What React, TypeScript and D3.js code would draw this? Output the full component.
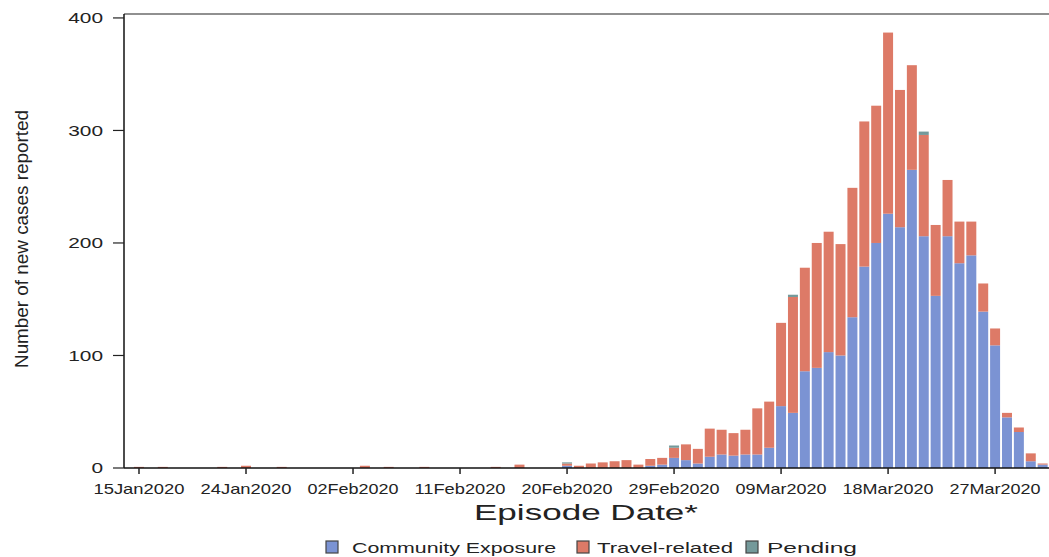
import React, { useEffect, useRef } from 'react';
import * as d3 from 'd3';

const WIDTH = 1049;
const HEIGHT = 557;

// one entry per episode day, 15Jan2020 .. 31Mar2020
const START_DAY = new Date(2020, 0, 15);
const END_DAY = new Date(2020, 3, 1);

const community = [
  0, 0, 0, 0, 0, 0, 0, 0, 0, 0, 0, 0, 0, 0, 0, 0, 0, 0, 0, 0,
  0, 0, 0, 0, 0, 0, 0, 0, 0, 0, 0, 0, 0, 0, 0, 0, 2, 0, 0, 0,
  0, 0, 0, 2, 3, 9, 7, 4, 10, 12, 11, 12, 12, 18, 55, 49, 86, 89, 103, 100,
  134, 179, 200, 226, 214, 265, 206, 153, 206, 182, 189, 139, 109, 45, 32, 6, 3,
];
const travel = [
  1, 0, 1, 0, 0, 0, 0, 1, 0, 2, 0, 0, 1, 0, 0, 0, 0, 0, 0, 2,
  0, 1, 0, 0, 1, 0, 0, 0, 0, 0, 1, 0, 3, 0, 0, 0, 2, 2, 4, 5,
  6, 7, 3, 6, 6, 9, 14, 13, 25, 22, 20, 22, 41, 41, 74, 103, 92, 111, 107, 99,
  115, 129, 122, 161, 122, 93, 90, 63, 50, 37, 30, 25, 15, 4, 4, 7, 1,
];
const pending = [
  0, 0, 0, 0, 0, 0, 0, 0, 0, 0, 0, 0, 0, 0, 0, 0, 0, 0, 0, 0,
  0, 0, 0, 0, 0, 0, 0, 0, 0, 0, 0, 0, 0, 0, 0, 0, 1, 0, 0, 0,
  0, 0, 0, 0, 0, 2, 0, 0, 0, 0, 0, 0, 0, 0, 0, 2, 0, 0, 0, 0,
  0, 0, 0, 0, 0, 0, 3, 0, 0, 0, 0, 0, 0, 0, 0, 0, 0,
];

const seriesKeys = ['community', 'travel', 'pending'];
const seriesLabels = ['Community Exposure', 'Travel-related', 'Pending'];
const seriesColors = ['#7b93d3', '#dd7a67', '#74999a'];

const xTickLabels = [
  '15Jan2020', '24Jan2020', '02Feb2020', '11Feb2020', '20Feb2020',
  '29Feb2020', '09Mar2020', '18Mar2020', '27Mar2020',
];
const yTicks = [0, 100, 200, 300, 400];

const FONT = '"Liberation Sans", Arial, sans-serif';

const App: React.FC = () => {
  const ref = useRef<SVGSVGElement>(null);

  useEffect(() => {
    const svg = d3.select(ref.current);
    svg.selectAll('*').remove();

    const days = d3.timeDay.range(START_DAY, END_DAY);
    const fmt = d3.timeFormat('%d%b%Y');
    const rows = days.map((d, i) => ({
      day: fmt(d),
      community: community[i],
      travel: travel[i],
      pending: pending[i],
    }));

    const left = 124;
    const top = 14;
    const bottom = 468;

    const x = d3
      .scaleBand()
      .domain(rows.map((r) => r.day))
      .range([133.05, 1048.6])
      .paddingInner(0.16)
      .paddingOuter(0.08);

    const y = d3.scaleLinear().domain([0, 403.5]).range([bottom, top]);

    const stack = d3.stack<any>().keys(seriesKeys)(rows);

    const g = svg.append('g');
    stack.forEach((layer, k) => {
      g.append('g')
        .attr('fill', seriesColors[k])
        .selectAll('rect')
        .data(layer.filter((d) => d[1] - d[0] > 0))
        .join('rect')
        .attr('x', (d) => x(d.data.day) as number)
        .attr('width', x.bandwidth())
        .attr('y', (d) => y(d[1]))
        .attr('height', (d) => y(d[0]) - y(d[1]));
    });

    // frame / axes
    svg.append('line').attr('x1', left).attr('x2', WIDTH).attr('y1', top).attr('y2', top)
      .attr('stroke', '#222').attr('stroke-width', 1.2);
    svg.append('line').attr('x1', left).attr('x2', left).attr('y1', top).attr('y2', bottom)
      .attr('stroke', '#111').attr('stroke-width', 1.5);
    svg.append('line').attr('x1', left).attr('x2', WIDTH).attr('y1', bottom).attr('y2', bottom)
      .attr('stroke', '#111').attr('stroke-width', 1.5);

    // y ticks
    const yt = svg.append('g');
    yTicks.forEach((t) => {
      yt.append('line').attr('x1', 113).attr('x2', left).attr('y1', y(t)).attr('y2', y(t))
        .attr('stroke', '#222').attr('stroke-width', 1.2);
      yt.append('text')
        .attr('x', 103).attr('y', y(t)).attr('dy', '0.36em')
        .attr('text-anchor', 'end')
        .attr('font-family', FONT).attr('font-size', 15).attr('fill', '#222')
        .attr('textLength', String(t).length * 11.6).attr('lengthAdjust', 'spacingAndGlyphs')
        .text(t);
    });

    // x ticks
    const xt = svg.append('g');
    xTickLabels.forEach((lab) => {
      const cx = (x(lab) as number) + x.bandwidth() / 2;
      xt.append('line').attr('x1', cx).attr('x2', cx).attr('y1', bottom).attr('y2', bottom + 6)
        .attr('stroke', '#222').attr('stroke-width', 1.5);
      xt.append('text')
        .attr('x', cx).attr('y', 494)
        .attr('text-anchor', 'middle')
        .attr('font-family', FONT).attr('font-size', 15).attr('fill', '#222')
        .attr('textLength', 91).attr('lengthAdjust', 'spacingAndGlyphs')
        .text(lab);
    });

    // axis titles
    svg.append('text')
      .attr('x', 586).attr('y', 520)
      .attr('text-anchor', 'middle')
      .attr('font-family', FONT).attr('font-size', 22).attr('fill', '#222')
      .attr('textLength', 224).attr('lengthAdjust', 'spacingAndGlyphs')
      .text('Episode Date*');

    svg.append('text')
      .attr('transform', 'translate(28,239) rotate(-90)')
      .attr('text-anchor', 'middle')
      .attr('font-family', '"Liberation Sans Narrow", "Liberation Sans", sans-serif')
      .attr('font-size', 19).attr('fill', '#222')
      .attr('textLength', 258).attr('lengthAdjust', 'spacingAndGlyphs')
      .text('Number of new cases reported');

    // legend
    const legendPos = [
      { sx: 326, tx: 352, tw: 204 },
      { sx: 577, tx: 597, tw: 136 },
      { sx: 746, tx: 767, tw: 90 },
    ];
    const lg = svg.append('g');
    seriesLabels.forEach((lab, k) => {
      const p = legendPos[k];
      lg.append('rect')
        .attr('x', p.sx).attr('y', 541).attr('width', 12).attr('height', 12)
        .attr('fill', seriesColors[k]).attr('stroke', '#444').attr('stroke-width', 1.2);
      lg.append('text')
        .attr('x', p.tx).attr('y', 553)
        .attr('font-family', FONT).attr('font-size', 15).attr('fill', '#222')
        .attr('textLength', p.tw).attr('lengthAdjust', 'spacingAndGlyphs')
        .text(lab);
    });
  }, []);

  return (
    <svg
      ref={ref}
      width={WIDTH}
      height={HEIGHT}
      style={{ position: 'absolute', left: 0, top: 0, background: '#fff' }}
    />
  );
};

export default App;
